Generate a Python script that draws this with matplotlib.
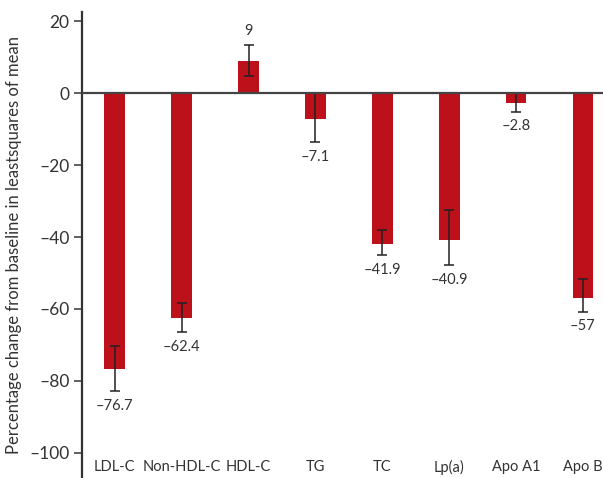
import numpy as np
import matplotlib
matplotlib.use('Agg')
import matplotlib.pyplot as plt

# data
categories = ['LDL-C', 'Non-HDL-C', 'HDL-C', 'TG', 'TC', 'Lp(a)', 'Apo A1', 'Apo B']
values = [-76.7, -62.4, 9.0, -7.1, -41.9, -40.9, -2.8, -57.0]
err_low = [6.0, 4.0, 4.2, 6.6, 3.0, 7.0, 2.3, 3.7]
err_high = [6.5, 4.2, 4.4, 7.1, 3.8, 8.3, 2.8, 5.2]
value_labels = ['\u201376.7', '\u201362.4', '9', '\u20137.1', '\u201341.9', '\u201340.9', '\u20132.8', '\u201357']
yticks = [20, 0, -20, -40, -60, -80, -100]

plt.rcParams['font.family'] = ['Lato', 'DejaVu Sans']

fig = plt.figure(figsize=(6.03, 4.78), dpi=100)
ax = fig.add_axes([0.136, 0.0, 0.864, 0.975])

x = np.arange(len(categories))
vals = np.array(values)
yerr = np.array([err_low, err_high])

ax.bar(x, vals, width=0.31, color='#bc101b', zorder=2)
ax.errorbar(x, vals, yerr=yerr, fmt='none', ecolor='#222222', elinewidth=1.1,
            capsize=3.5, capthick=1.1, zorder=3)
ax.axhline(0, color='#444444', lw=1.6, zorder=4)

for xi, v, lo, hi, lab in zip(x, vals, err_low, err_high, value_labels):
    if v >= 0:
        ax.text(xi, v + hi + 2, lab, ha='center', va='bottom', fontsize=10.5, color='#333333')
    else:
        ax.text(xi, v - lo - 2.2, lab, ha='center', va='top', fontsize=10.5, color='#333333')

for xi, c in zip(x, categories):
    ax.text(xi, -104, c, ha='center', va='center', fontsize=10.5, color='#333333')

ax.set_xlim(-0.49, 7.3)
ax.set_ylim(-107, 22.6)
ax.set_xticks([])
ax.set_yticks(yticks)
ax.set_yticklabels([str(t).replace('-', '\u2013') for t in yticks], fontsize=12.5, color='#333333')
ax.tick_params(axis='y', length=6, width=1.2, color='#444444', pad=3)

for s in ['top', 'right', 'bottom']:
    ax.spines[s].set_visible(False)
ax.spines['left'].set_color('#333333')
ax.spines['left'].set_linewidth(1.6)

ax.set_ylabel('Percentage change from baseline in leastsquares of mean', fontsize=12,
              color='#333333', labelpad=5)

fig.savefig('out.png', dpi=100)
